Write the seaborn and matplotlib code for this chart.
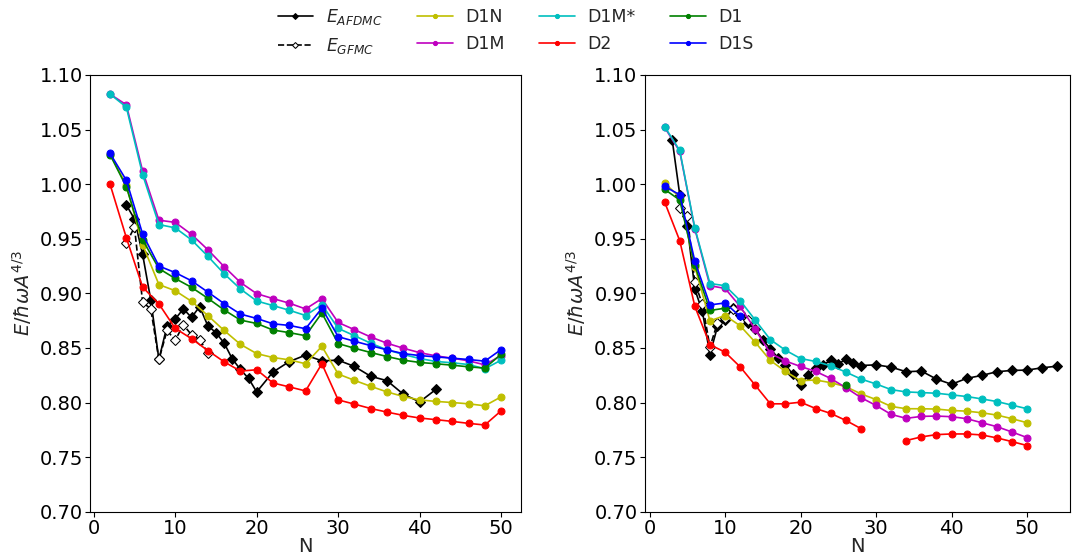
import numpy as np
import pandas as pd
import matplotlib
matplotlib.use("Agg")
import matplotlib.pyplot as plt
import seaborn as sns

# --- data ---
# left panel
N_even = [2, 4, 6, 8, 10, 12, 14, 16, 18, 20, 22, 24, 26, 28, 30, 32, 34, 36, 38, 40, 42, 44, 46, 48, 50]
L_d1n = [1.028, 0.999, 0.9445, 0.908, 0.9024, 0.8927, 0.8797, 0.866, 0.8533, 0.8448, 0.8412, 0.8391, 0.8355,
         0.8515, 0.8261, 0.8203, 0.8148, 0.8097, 0.8055, 0.8024, 0.801, 0.800, 0.7988, 0.797, 0.8052]
L_d1m = [1.0825, 1.0727, 1.012, 0.967, 0.965, 0.954, 0.940, 0.9245, 0.910, 0.8997, 0.8952, 0.891, 0.8857,
         0.8952, 0.8733, 0.8667, 0.860, 0.8543, 0.8497, 0.8457, 0.8427, 0.8406, 0.8382, 0.8345, 0.843]
L_d1ms = [1.0825, 1.0706, 1.0088, 0.963, 0.960, 0.949, 0.934, 0.918, 0.904, 0.893, 0.8888, 0.8845, 0.8797,
          0.8897, 0.8679, 0.8612, 0.8543, 0.8482, 0.844, 0.8403, 0.8376, 0.8364, 0.8348, 0.8309, 0.8388]
L_d2 = [1.000, 0.951, 0.9057, 0.8903, 0.8679, 0.8585, 0.8476, 0.8373, 0.8288, 0.830, 0.8179, 0.8143, 0.8106,
        0.8355, 0.8024, 0.7985, 0.7945, 0.7912, 0.7882, 0.7858, 0.7843, 0.7827, 0.7809, 0.7794, 0.7924]
L_d1 = [1.027, 0.9976, 0.949, 0.9227, 0.9136, 0.9055, 0.8955, 0.8848, 0.8755, 0.8724, 0.8664, 0.864, 0.8612,
        0.882, 0.854, 0.8497, 0.8458, 0.8421, 0.8388, 0.8367, 0.8355, 0.8342, 0.8327, 0.8315, 0.8442]
L_d1s = [1.0282, 1.0036, 0.9543, 0.925, 0.919, 0.9115, 0.9012, 0.8906, 0.881, 0.877, 0.8721, 0.8706, 0.8676,
         0.8864, 0.8603, 0.8561, 0.8521, 0.8482, 0.8448, 0.843, 0.8418, 0.8406, 0.8394, 0.8379, 0.8485]
L_afdmc_N = [4, 5, 6, 7, 8, 9, 10, 11, 12, 13, 14, 15, 16, 17, 18, 19, 20, 22, 24, 26, 28, 30, 32, 34, 36, 38, 40, 42]
L_afdmc = [0.981, 0.968, 0.9357, 0.894, 0.8394, 0.8703, 0.8764, 0.8858, 0.8779, 0.8879, 0.8703, 0.864, 0.8545,
           0.840, 0.8303, 0.8221, 0.8097, 0.8279, 0.8375, 0.8434, 0.8382, 0.8388, 0.833, 0.824, 0.820, 0.8076,
           0.8006, 0.812]
L_gfmc_N = [4, 5, 6, 7, 8, 9, 10, 11, 12, 13, 14]
L_gfmc = [0.946, 0.9606, 0.8918, 0.8858, 0.8394, 0.866, 0.857, 0.8712, 0.862, 0.8576, 0.8455]

# right panel
R_d1n = [1.001, 0.988, 0.9245, 0.8748, 0.8797, 0.8703, 0.8552, 0.8385, 0.8285, 0.820, 0.8206, 0.8182, 0.8145,
         0.8079, 0.8027, 0.7964, 0.7943, 0.7943, 0.794, 0.7927, 0.7921, 0.7906, 0.7885, 0.7852, 0.7815]
R_d1m = [1.052, 1.030, 0.959, 0.907, 0.9045, 0.888, 0.867, 0.845, 0.838, 0.833, 0.8285, 0.822, 0.8136,
         0.8045, 0.7973, 0.7891, 0.7855, 0.7873, 0.7876, 0.787, 0.7852, 0.7815, 0.7779, 0.773, 0.7679]
R_d1ms = [1.0527, 1.0309, 0.9597, 0.909, 0.907, 0.8934, 0.8755, 0.8576, 0.8479, 0.8403, 0.8376, 0.8336, 0.8279,
          0.8215, 0.817, 0.8118, 0.8097, 0.8091, 0.8085, 0.807, 0.8055, 0.8033, 0.8009, 0.7976, 0.7943]
R_d2 = [0.9836, 0.9482, 0.888, 0.853, 0.8461, 0.8327, 0.8158, 0.7988, 0.7988, 0.8003, 0.7945, 0.790, 0.7836,
        0.7761, np.nan, np.nan, 0.7652, 0.7685, 0.7706, 0.7712, 0.7712, 0.7703, 0.7676, 0.7642, 0.7606]
R_d1 = [0.9952, 0.9855, 0.9257, 0.8843, 0.8864, np.nan, np.nan, np.nan, np.nan, np.nan, np.nan, np.nan, 0.8158,
        np.nan, np.nan, np.nan, np.nan, np.nan, np.nan, np.nan, np.nan, np.nan, np.nan, np.nan, np.nan]
R_d1s = [0.9979, 0.9903, 0.9294, 0.8894, 0.8912, 0.8788, np.nan, np.nan, np.nan, np.nan, np.nan, np.nan, np.nan,
         np.nan, np.nan, np.nan, np.nan, np.nan, np.nan, np.nan, np.nan, np.nan, np.nan, np.nan, np.nan]
R_afdmc_N = [3, 4, 5, 6, 7, 8, 9, 10, 11, 12, 13, 14, 15, 16, 17, 18, 19, 20, 21, 22, 23, 24, 25, 26, 27, 28,
             30, 32, 34, 36, 38, 40, 42, 44, 46, 48, 50, 52, 54]
R_afdmc = [1.0406, 0.9903, 0.962, 0.9036, 0.8834, 0.8439, 0.8697, 0.8758, 0.8864, 0.8803, 0.8724, 0.8673,
           0.8573, 0.8494, 0.8409, 0.8343, 0.8258, 0.8161, 0.8252, 0.8318, 0.8348, 0.8385, 0.8355, 0.8394,
           0.8364, 0.8339, 0.8345, 0.8324, 0.8282, 0.8288, 0.8215, 0.8167, 0.8221, 0.8248, 0.8282, 0.8294,
           0.8297, 0.8318, 0.8333]
R_gfmc_N = [4, 5, 6, 7, 8, 9, 10, 11, 12, 13]
R_gfmc = [0.978, 0.971, 0.910, 0.890, 0.851, 0.873, 0.877, 0.886, 0.882, 0.876]

labels = [r'$E_{AFDMC}$', r'$E_{GFMC}$', 'D1N', 'D1M', 'D1M*', 'D2', 'D1', 'D1S']
colors = ['k', 'k', 'y', 'm', 'c', 'r', 'g', 'b']

sns.set_style("ticks")
plt.rcParams['font.family'] = ['DejaVu Sans']
plt.rcParams['font.size'] = 14
plt.rcParams['axes.edgecolor'] = 'black'
plt.rcParams['xtick.color'] = 'black'
plt.rcParams['ytick.color'] = 'black'
plt.rcParams['mathtext.fontset'] = 'dejavusans'

fig = plt.figure(figsize=(10.72, 5.58), dpi=100)
ax1 = fig.add_axes([0.0844, 0.083, 0.4013, 0.7826])
ax2 = fig.add_axes([0.6017, 0.083, 0.3965, 0.7826])


def draw(ax, x, y, color, label, **kw):
    # split on NaN so gaps stay gaps (seaborn drops NaN rows)
    df = pd.DataFrame({"N": x, "E": y})
    seg = df["E"].isna().cumsum()
    first = True
    for _, part in df[df["E"].notna()].groupby(seg[df["E"].notna()]):
        sns.lineplot(data=part, x="N", y="E", ax=ax, color=color, estimator=None,
                     label=label if first else None, lw=1.2, **kw)
        first = False


for ax, n_af, v_af, n_gf, v_gf, series in [
    (ax1, L_afdmc_N, L_afdmc, L_gfmc_N, L_gfmc, [L_d1n, L_d1m, L_d1ms, L_d2, L_d1, L_d1s]),
    (ax2, R_afdmc_N, R_afdmc, R_gfmc_N, R_gfmc, [R_d1n, R_d1m, R_d1ms, R_d2, R_d1, R_d1s]),
]:
    draw(ax, n_af, v_af, 'k', labels[0], marker='D', markersize=5, markeredgecolor='k')
    draw(ax, n_gf, v_gf, 'k', labels[1], marker='D', markersize=5, markeredgecolor='k',
         markerfacecolor='white', linestyle='--')
    for vals, lab, col in zip(series, labels[2:], colors[2:]):
        draw(ax, N_even, vals, col, lab, marker='o', markersize=5, markeredgecolor=col)

    ax.set_ylim(0.70, 1.10)
    ax.set_yticks([0.70, 0.75, 0.80, 0.85, 0.90, 0.95, 1.00, 1.05, 1.10])
    ax.set_yticklabels(['0.70', '0.75', '0.80', '0.85', '0.90', '0.95', '1.00', '1.05', '1.10'])
    ax.set_xticks([0, 10, 20, 30, 40, 50])
    ax.set_xlabel('N', fontsize=14, labelpad=-1)
    ax.set_ylabel(r'$E/\hbar\omega A^{4/3}$', fontsize=14, labelpad=4)
    ax.tick_params(labelsize=14, length=3.5, pad=2)
    ax.get_legend().remove()

ax2.set_xlim(-0.6, 55.7)

handles, labs = ax1.get_legend_handles_labels()
fig.legend(handles, labs, ncol=4, loc='upper center', bbox_to_anchor=(0.481, 1.015),
           frameon=False, fontsize=12.5, markerscale=0.6, columnspacing=2.0,
           handlelength=2.07, handletextpad=0.7)

fig.savefig('out.png', dpi=100)
